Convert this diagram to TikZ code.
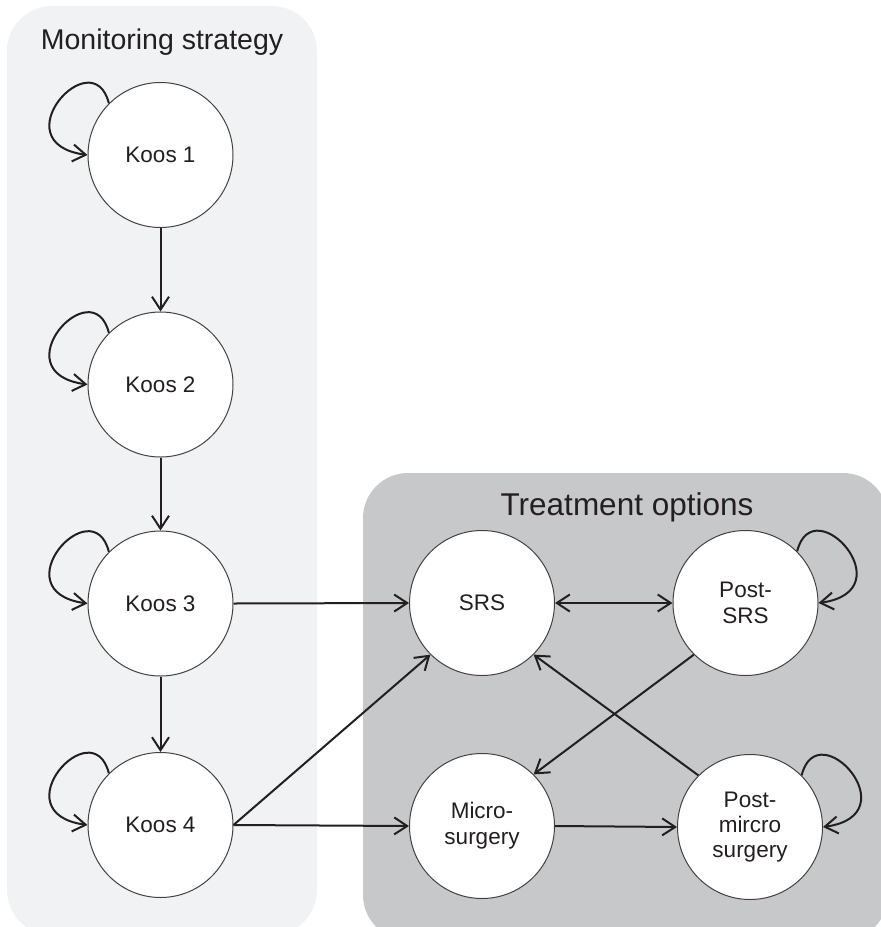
\documentclass[tikz,border=0pt]{standalone}
\usepackage{fontspec}
\setmainfont{Liberation Sans}
\usetikzlibrary{arrows.meta}
\definecolor{leftbg}{HTML}{F1F2F4}
\definecolor{rightbg}{HTML}{C7C8CA}
\definecolor{ink}{HTML}{231F20}
\tikzset{
  state/.style={circle, draw=ink!85, line width=1pt, fill=white, minimum size=145pt, inner sep=0pt, align=center, font=\fontsize{22.5}{26}\selectfont, text=ink},
  tip/.tip={Straight Barb[length=13pt,width=17pt,line width=2pt]},
  arr/.style={draw=ink, line width=2pt, -tip},
  biarr/.style={draw=ink, line width=2pt, tip-tip},
  panel/.style={rounded corners=45pt},
  paneltitle/.style={text=ink, inner sep=0pt}
}
\begin{document}
\begin{tikzpicture}[x=1pt,y=-1pt]
\useasboundingbox (0,0) rectangle (881,927);
\begin{scope}
\clip (0,0) rectangle (881,927);
\fill[leftbg, panel] (7,6) rectangle (317,935);
\fill[rightbg, panel] (363,473) rectangle (888,940);
\end{scope}
\node[paneltitle, font=\fontsize{28.5}{32}\selectfont] (t1) at (162,42) {Monitoring strategy};
\node[paneltitle, font=\fontsize{31.5}{36}\selectfont] (t2) at (627,507) {Treatment options};

\node[state] (k1) at (160.5,155) {Koos 1};
\node[state] (k2) at (160.5,384.5) {Koos 2};
\node[state] (k3) at (160.5,603.5) {Koos 3};
\node[state] (k4) at (160.5,825) {Koos 4};

\node[state] (srs) at (482,603) {SRS};
\node[state] (psrs) at (745.5,603) {Post-\\SRS};
\node[state] (ms) at (482,826) {Micro-\\surgery};
\node[state, font=\fontsize{22.5}{25}\selectfont] (pms) at (750,827) {Post-\\mircro\\surgery};

\draw[arr] (k1) -- (k2);
\draw[arr] (k2) -- (k3);
\draw[arr] (k3) -- (k4);
\draw[arr] (k3.east) -- (srs.west);
\draw[arr] (k4.east) -- (srs.225);
\draw[arr] (k4.east) -- (ms.west);
\draw[biarr] (srs.east) -- (psrs.west);
\draw[arr] (psrs.225) -- (ms.45);
\draw[arr] (pms.135) -- (srs.-45);
\draw[arr] (ms.east) -- (pms.west);

\foreach \n in {k1,k2,k3,k4}{
  \draw[arr] (\n.135) .. controls +(-16,-64) and +(-88,-12) .. (\n.west);
}
\foreach \n in {psrs,pms}{
  \draw[arr] (\n.45) .. controls +(16,-64) and +(88,-12) .. (\n.east);
}
\end{tikzpicture}
\end{document}
